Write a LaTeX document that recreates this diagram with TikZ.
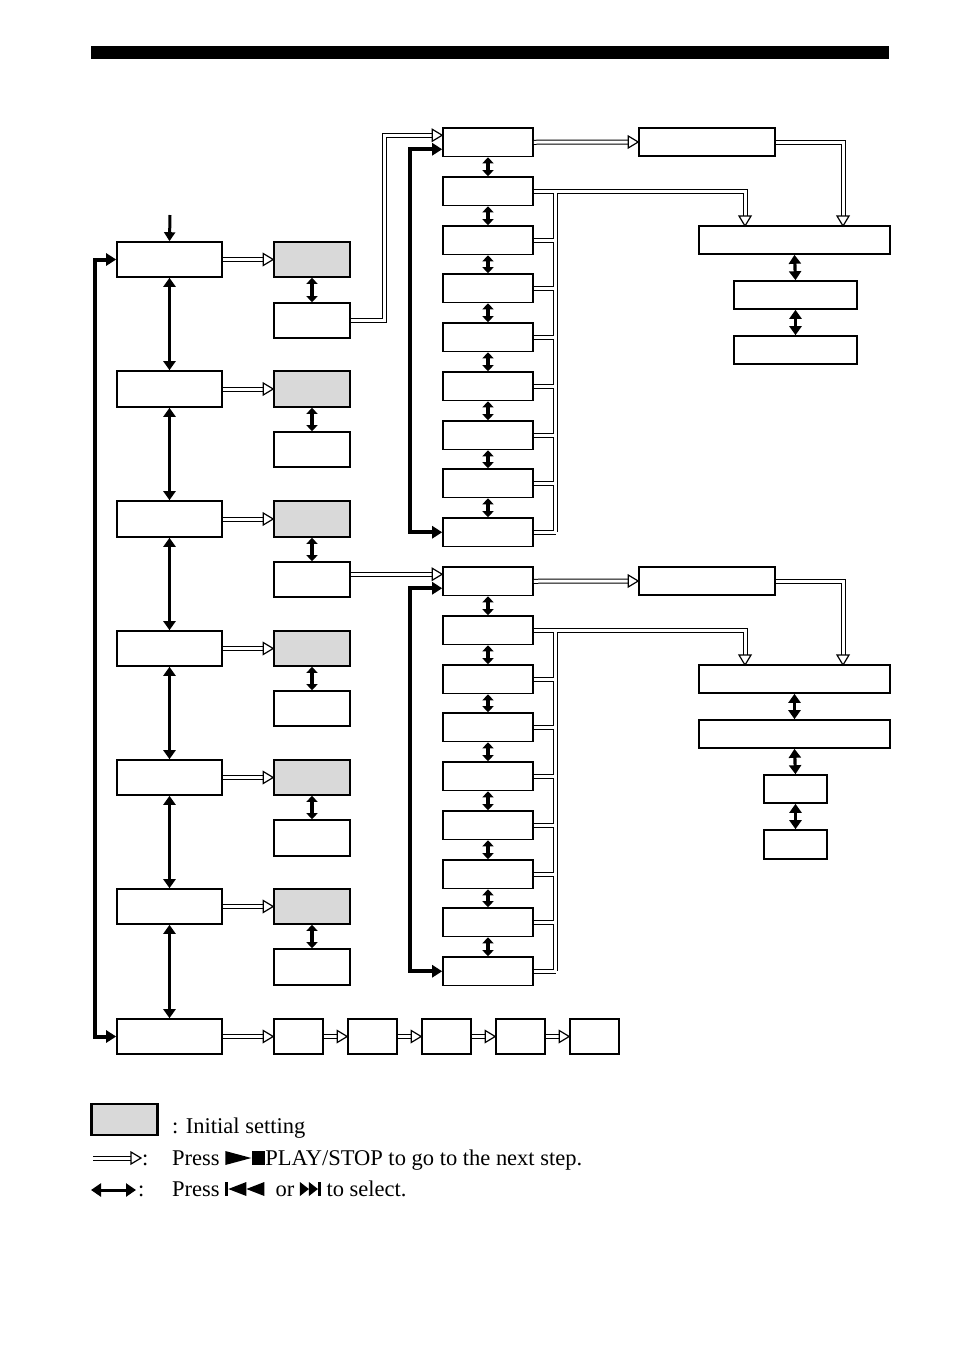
\documentclass[tikz,border=0pt]{standalone}
\usepackage{fontspec}
\setmainfont{Liberation Serif}
\usetikzlibrary{arrows.meta,calc}
\begin{document}
\begin{tikzpicture}[x=1pt,y=-1pt,
  box/.style={draw,line width=1.6pt,inner sep=0pt,fill=white},
  gbox/.style={box,fill=gray!30},
  dblo/.style={line width=5pt,black,shorten >=9pt},
  dbli/.style={line width=3pt,white,shorten >=9pt},
  dbloN/.style={line width=5pt,black},
  dbliN/.style={line width=3pt,white},
  sel/.style={line width=3.2pt,{Triangle[length=9pt,width=12pt]}-{Triangle[length=9pt,width=12pt]}},
  selS/.style={line width=3.2pt,{Triangle[length=6pt,width=11pt]}-{Triangle[length=6pt,width=11pt]}},
  loopa/.style={line width=4pt,{Triangle[length=10pt,width=12pt]}-{Triangle[length=10pt,width=12pt]}},
  txt/.style={font=\fontsize{22.5}{26}\selectfont,inner sep=0pt,anchor=base west},
]
\useasboundingbox (0,0) rectangle (954,1345);
\newcommand\bx[6]{\pgfmathsetmacro\cx{(#2+#4)/2}\pgfmathsetmacro\cy{(#3+#5)/2}%
 \pgfmathsetmacro\ww{#4-#2}\pgfmathsetmacro\hh{#5-#3}%
 \node[#6,minimum width=\ww pt,minimum height=\hh pt] (#1) at (\cx,\cy) {};}
\newcommand\dblp[1]{\draw[dblo] #1; \draw[dbli] #1;}
\newcommand\tipR[1]{\draw[line width=1.2pt,fill=white,line join=miter] ($(#1)+(-10,-6)$)--(#1)--($(#1)+(-10,6)$)--cycle;}
\newcommand\tipD[1]{\draw[line width=1.2pt,fill=white,line join=miter] ($(#1)+(-6,-10)$)--(#1)--($(#1)+(6,-10)$)--cycle;}
% top bar
\fill (91,46) rectangle (889,59);
% left column
\foreach \i/\a/\b in {1/242/277,2/371/407,3/501/537,4/631/666,5/760/795,6/889/924,7/1019/1054}{\bx{L\i}{117}{\a}{222}{\b}{box}}
\foreach \i/\a/\b/\c/\d in {1/242/277/303/338,2/371/407/432/467,3/501/537/562/597,4/631/666/691/726,5/760/795/820/856,6/889/924/949/985}{
 \bx{G\i}{274}{\a}{350}{\b}{gbox}\bx{W\i}{274}{\c}{350}{\d}{box}
 \draw[selS] (G\i.south) -- (W\i.north);
 \dblp{(L\i.east) -- (G\i.west)}\tipR{G\i.west}}
\foreach \i/\j in {1/2,2/3,3/4,4/5,5/6,6/7}{\draw[sel] (L\i.south) -- (L\j.north);}
\coordinate (top) at (170,215);
\draw[line width=3pt,-{Triangle[length=9pt,width=11pt]}] (top) -- (L1.north);
\draw[loopa] (L1.west) -- ++(-21,0) |- (L7.west);
% bottom row
\foreach \i/\a in {1/274,2/348,3/422,4/496,5/570}{\pgfmathsetmacro\bb{\a+49}\bx{B\i}{\a}{1019}{\bb}{1054}{box}}
\dblp{(L7.east) -- (B1.west)}\tipR{B1.west}
\foreach \i/\j in {1/2,2/3,3/4,4/5}{\dblp{(B\i.east) -- (B\j.west)}\tipR{B\j.west}}
% right boxes
\bx{R1}{639}{128}{775}{156}{box}
\bx{R2}{699}{226}{890}{254}{box}
\bx{R3}{734}{281}{857}{309}{box}
\bx{R4}{734}{336}{857}{364}{box}
\bx{S1}{639}{567}{775}{595}{box}
\bx{S2}{699}{665}{890}{693}{box}
\bx{S3}{699}{720}{890}{748}{box}
\bx{S4}{764}{775}{827}{803}{box}
\bx{S5}{764}{830}{827}{859}{box}
\coordinate (tU) at (745,226); \coordinate (tD) at (745,665);
\coordinate (uU) at (843,226); \coordinate (uD) at (843,665);
\draw[sel] (R2.south) -- (R3.north); \draw[sel] (R3.south) -- (R4.north);
\draw[sel] (S2.south) -- (S3.north); \draw[sel] (S3.south) -- (S4.north);
\draw[sel] (S4.south) -- (S5.north);
% column 3 groups
\foreach \g/\ys/\R in {U/{128,177,226,274,323,372,421,469,518}/R1,D/{567,616,665,713,762,811,860,908,957}/S1}{
 \foreach \y [count=\k] in \ys {\pgfmathsetmacro\yb{\y+28.5}\bx{\g\k}{443}{\y}{533}{\yb}{box}}
 \foreach \k [evaluate=\k as \n using int(\k+1)] in {1,...,8}{\draw[selS] (\g\k.south) -- (\g\n.north);}
 \foreach \k in {2,...,9}{\draw[dbloN] (\g\k.east) -- ++(22,0);}
 \draw[dbloN] ($(\g9.east)+(22,0)$) -- ($(\g2.east)+(22,0)$);
 \draw[dblo] (\g2.east) -| (t\g);
 \foreach \k in {2,...,9}{\draw[dbliN] (\g\k.east) -- ++(22,0);}
 \draw[dbliN] ($(\g9.east)+(22,0)$) -- ($(\g2.east)+(22,0)$);
 \draw[dbli] (\g2.east) -| (t\g);
 \tipD{t\g}
 \dblp{(\g1.east) -- (\R.west)}\tipR{\R.west}
 \dblp{(\R.east) -| (u\g)}\tipD{u\g}
 \coordinate (\g in) at ($(\g1.west)+(0,-7)$);
 \coordinate (\g lp) at ($(\g1.west)+(0,7)$);
 \draw[loopa] (\g lp) -- ++(-32,0) |- (\g9.west);
}
\dblp{(W1.east) -- ++(34,0) |- (Uin)}\tipR{Uin}
\dblp{(W3.east|-Din) -- (Din)}\tipR{Din}
% legend
\node[gbox,line width=2.5pt,minimum width=66pt,minimum height=31pt] (lg) at (124.5,1119.5) {};
\node[txt] (l1) at (172,1133) {: Initial setting};
\coordinate (la1) at (93,1158); \coordinate (la2) at (141,1158);
\dblp{(la1) -- (la2)}\tipR{la2}
\node[txt] (l2c) at (142,1165) {:};
\node[txt] (l2) at (172,1165) {Press \tikz[x=1pt,y=1pt,baseline=0pt]{\fill (0,0)--(26,7)--(0,14)--cycle; \fill (27,0) rectangle (40,14);}PLAY/STOP to go to the next step.};
\coordinate (lb1) at (91,1190); \coordinate (lb2) at (136,1190);
\draw[line width=3pt,{Triangle[length=10pt,width=13pt]}-{Triangle[length=10pt,width=13pt]}] (lb1) -- (lb2);
\node[txt] (l3c) at (138,1196) {:};
\node[txt] (l3) at (172,1196) {Press \tikz[x=1pt,y=1pt,baseline=0pt]{\fill (0,0) rectangle (3,14); \fill (3,7)--(21,0)--(21,14)--cycle; \fill (21,7)--(39,0)--(39,14)--cycle;}\ \ or \tikz[x=1pt,y=1pt,baseline=0pt]{\fill (0,0)--(9,7)--(0,14)--cycle; \fill (9,0)--(18,7)--(9,14)--cycle; \fill (18,0) rectangle (21,14);} to select.};
\end{tikzpicture}
\end{document}
